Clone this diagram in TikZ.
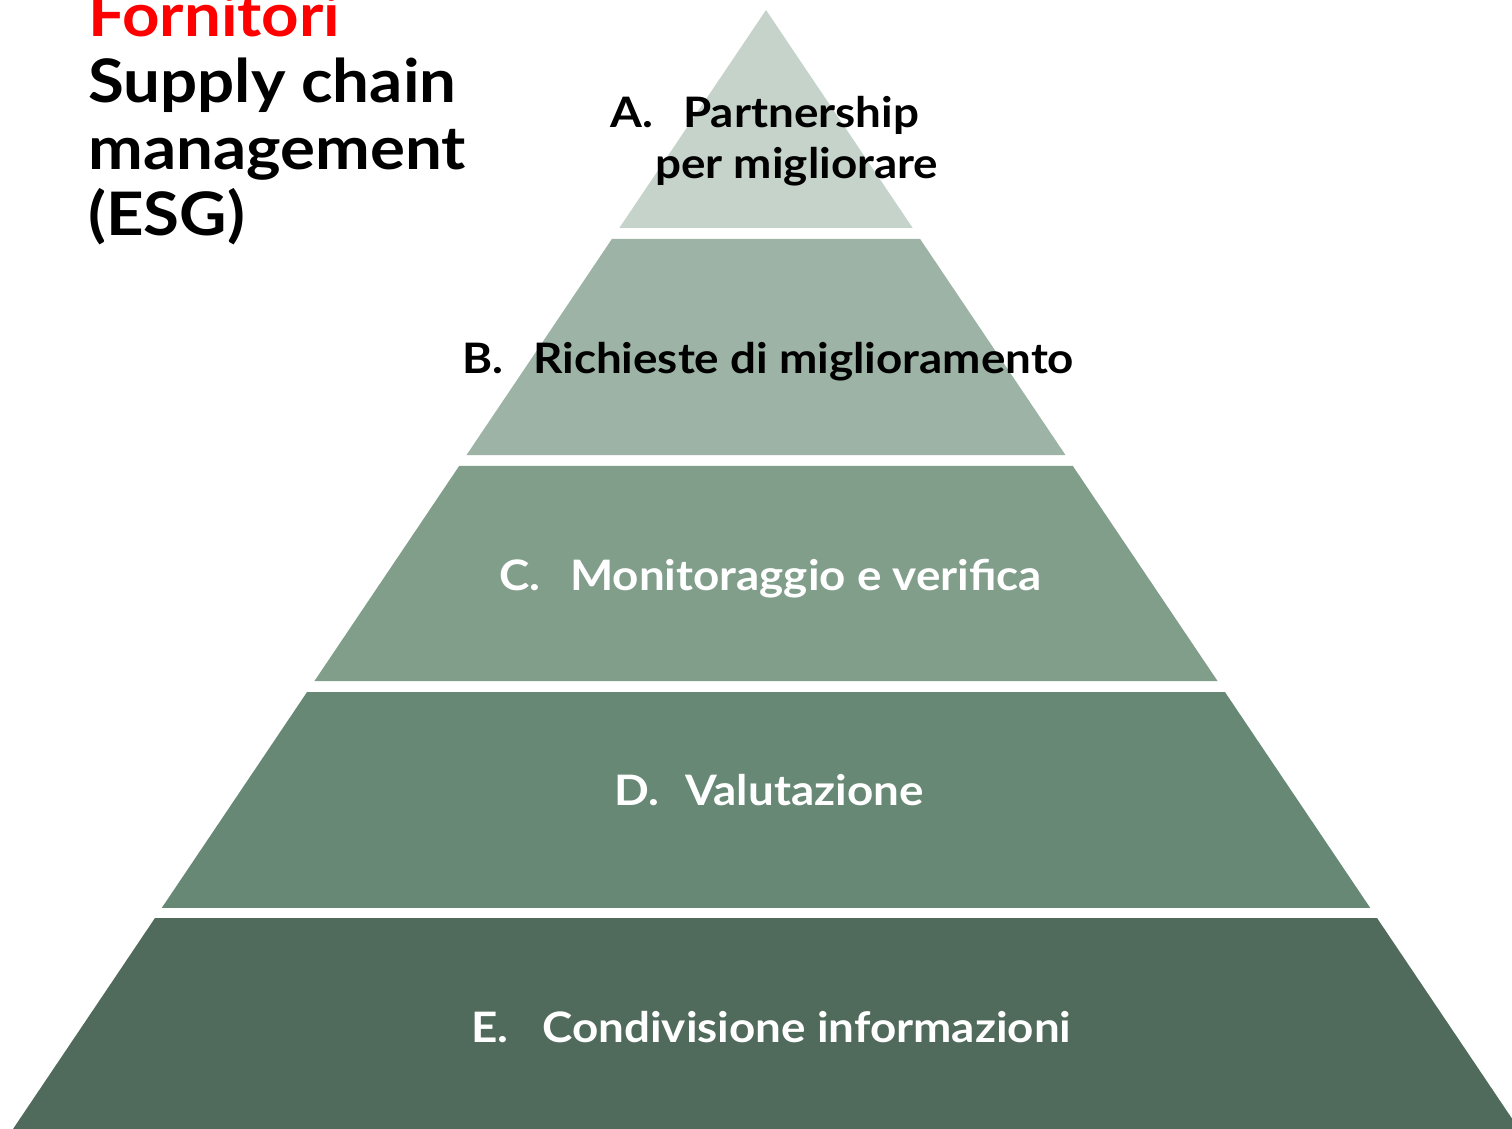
\documentclass[tikz,border=0pt]{standalone}
\usepackage{fontspec}
\setmainfont{Lato}
\usetikzlibrary{calc}
\definecolor{tierA}{RGB}{197,211,202}
\definecolor{tierB}{RGB}{156,179,165}
\definecolor{tierC}{RGB}{129,158,139}
\definecolor{tierD}{RGB}{103,136,117}
\definecolor{tierE}{RGB}{80,106,91}
\definecolor{titlered}{RGB}{255,0,0}
\tikzset{
  tierlabel/.style={anchor=base west, inner sep=0pt, xscale=1.09, font=\fontsize{42}{50}\selectfont\bfseries},
  titlelabel/.style={anchor=base west, inner sep=0pt, xscale=1.09, font=\fontsize{60}{66}\selectfont\bfseries}
}

\begin{document}
\begin{tikzpicture}[x=1pt,y=-1pt]
  \useasboundingbox (0,0) rectangle (1512,1129);
  %PIRAMIDE
  \coordinate (P) at (766,10);
  \coordinate (L) at (13,1129);
  \coordinate (R) at (1519,1129);
  \foreach \ya/\yb/\col in {10/228/tierA, 239/455/tierB, 466/681/tierC, 692/908/tierD, 918/1129/tierE}{
    \pgfmathsetmacro\fa{(\ya-10)/1119}
    \pgfmathsetmacro\fb{(\yb-10)/1119}
    \fill[\col] ($(P)!\fa!(L)$) -- ($(P)!\fb!(L)$) -- ($(P)!\fb!(R)$) -- ($(P)!\fa!(R)$) -- cycle;
  }
  %TITOLO
  \node[titlelabel, text=titlered] (forn) at (88,37) {Fornitori};
  \node[titlelabel] (supply) at (88,103) {Supply chain};
  \node[titlelabel] (mgmt) at (88,169) {management};
  \node[titlelabel] (esg) at (88,235) {(ESG)};
  %LIVELLI
  \node[tierlabel] (a) at (610,128) {A.};
  \node[tierlabel] (atxt) at (683,128) {Partnership};
  \node[tierlabel] (atxt2) at (655,178) {per migliorare};
  \node[tierlabel] (b) at (462,373) {B.};
  \node[tierlabel] (btxt) at (533,373) {Richieste di miglioramento};
  \node[tierlabel, white] (c) at (499,590) {C.};
  \node[tierlabel, white] (ctxt) at (570,590) {Monitoraggio e verifica};
  \node[tierlabel, white] (d) at (614,805) {D.};
  \node[tierlabel, white] (dtxt) at (685,805) {Valutazione};
  \node[tierlabel, white] (e) at (471,1042) {E.};
  \node[tierlabel, white] (etxt) at (542,1042) {Condivisione informazioni};
\end{tikzpicture}
\end{document}
